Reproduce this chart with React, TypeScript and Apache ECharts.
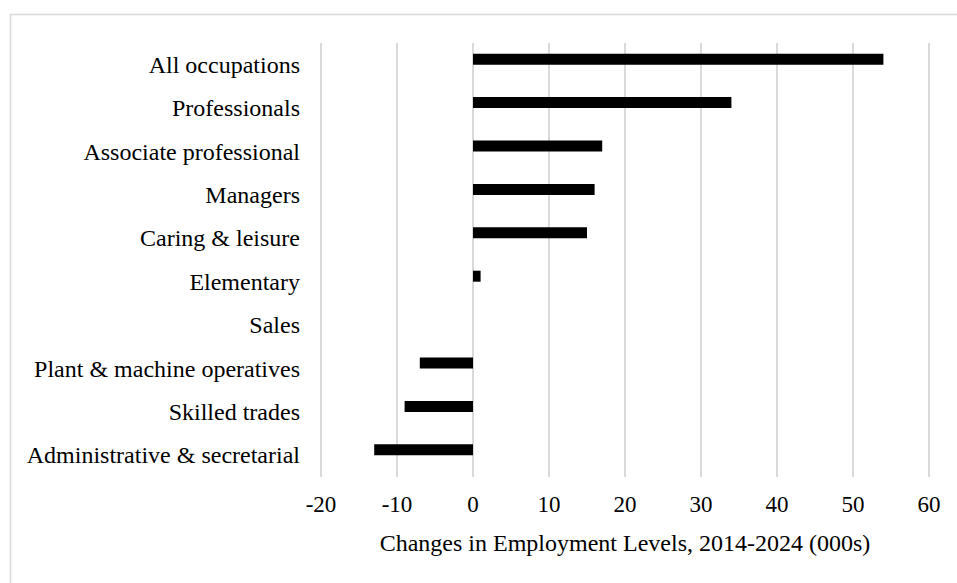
import React, { useEffect, useRef } from "react";
import * as echarts from "echarts";

const categories = [
  "All occupations",
  "Professionals",
  "Associate professional",
  "Managers",
  "Caring & leisure",
  "Elementary",
  "Sales",
  "Plant & machine operatives",
  "Skilled trades",
  "Administrative & secretarial",
];

const changes = [54, 34, 17, 16, 15, 1, 0, -7, -9, -13];
const placeholder: (number | null)[] = categories.map(() => null);

const axisMin = -20;
const axisMax = 60;
const axisStep = 10;
const axisTitle = "Changes in Employment Levels, 2014-2024 (000s)";

const FONT = "'Liberation Serif', 'Times New Roman', serif";

export default function App() {
  const ref = useRef<HTMLDivElement>(null);

  useEffect(() => {
    if (!ref.current) return;
    const chart = echarts.init(ref.current, undefined, { renderer: "svg" });
    chart.setOption({
      animation: false,
      backgroundColor: "#ffffff",
      textStyle: { fontFamily: FONT },
      graphic: [
        {
          type: "rect",
          shape: { x: 10.5, y: 14.5, width: 1200, height: 1200 },
          style: { fill: "none", stroke: "#d9d9d9", lineWidth: 1.5 },
          silent: true,
        },
      ],
      grid: { left: 321, right: 28, top: 43, bottom: 106 },
      xAxis: {
        type: "value",
        min: axisMin,
        max: axisMax,
        interval: axisStep,
        axisLine: { show: false },
        axisTick: { show: false },
        splitLine: { show: true, lineStyle: { color: "#d9d9d9", width: 2 } },
        axisLabel: { color: "#000", fontSize: 23, fontFamily: FONT, margin: 16 },
        name: axisTitle,
        nameLocation: "middle",
        nameGap: 54,
        nameTextStyle: { color: "#000", fontSize: 24, fontFamily: FONT },
      },
      yAxis: {
        type: "category",
        data: categories,
        inverse: true,
        axisLine: { show: false },
        axisTick: { show: false },
        splitLine: { show: false },
        axisLabel: { color: "#000", fontSize: 24, fontFamily: FONT, margin: 21 },
      },
      series: [
        {
          name: "Change",
          type: "bar",
          data: changes,
          barWidth: 11,
          barGap: "0%",
          itemStyle: { color: "#000000" },
        },
        {
          name: "Blank",
          type: "bar",
          data: placeholder,
          barWidth: 11,
          barGap: "0%",
          itemStyle: { color: "#000000" },
        },
      ],
    });
    return () => chart.dispose();
  }, []);

  return (
    <div
      ref={ref}
      style={{ position: "fixed", left: 0, top: 0, width: 957, height: 583 }}
    />
  );
}
